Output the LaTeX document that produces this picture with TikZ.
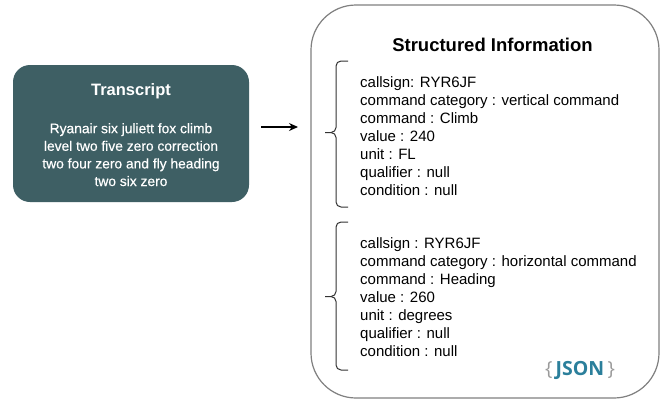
\documentclass[tikz,border=0pt]{standalone}
\usepackage{fontspec}
\setmainfont{Liberation Sans}
\newfontfamily\logofont{Open Sans}
\newfontfamily\trfont[FakeBold=0.4]{Liberation Sans}
\usetikzlibrary{arrows.meta}
\definecolor{trfill}{HTML}{3E5F64}
\definecolor{boxline}{HTML}{808080}
\definecolor{bracecol}{HTML}{333333}
\definecolor{jsonblue}{HTML}{2B7F9B}
\definecolor{jsongray}{HTML}{9A9A9A}
\begin{document}
\begin{tikzpicture}[x=1pt,y=-1pt,
  bodytext/.style={anchor=north west,inner sep=0pt,align=left,
    font=\fontsize{15}{18}\selectfont,text=black},
  bracepath/.style={draw=bracecol,line width=1pt},
]
\useasboundingbox (0,0) rectangle (667,405);
\fill[white] (0,0) rectangle (667,405);

% Transcript box
\node[fill=trfill,rounded corners=17pt,minimum width=236pt,minimum height=137pt,inner sep=0pt] (tr) at (131,133.5) {};
\node[anchor=base,inner sep=0pt,text=white,font=\fontsize{16.5}{20}\selectfont\bfseries] (trtitle) at (131,95.3) {Transcript};
\node[anchor=north,inner sep=0pt,align=center,text=white,font=\trfont\fontsize{13.8}{17.6}\selectfont] (trbody) at (131,123)
  {Ryanair six juliett fox climb\\level two five zero correction\\two four zero and fly heading\\two six zero};

% Structured information box
\node[draw=boxline,line width=1.2pt,rounded corners=45pt,minimum width=348pt,minimum height=393pt,inner sep=0pt] (si) at (485,201.5) {};
\node[anchor=base,inner sep=0pt,font=\fontsize{18.5}{22}\selectfont\bfseries] (sititle) at (492.5,51) {Structured Information};

% Arrow
\coordinate (a1) at (261,127);
\coordinate (a2) at (298,127);
\draw[line width=1.3pt,-{Stealth[length=9pt,width=8pt]}] (a1) -- (a2);

% Brace 1
\draw[bracepath] (348,61) -- (341,61) to[out=180,in=90] (336,66) -- (336,127.5)
  to[out=270,in=0] (331,132.5) -- (325,132.5);
\draw[bracepath] (331,132.5) to[out=0,in=90] (336,137.5) -- (336,202)
  to[out=270,in=180] (341,207) -- (348,207);

% Brace 2
\draw[bracepath] (348,222) -- (341,222) to[out=180,in=90] (336,227) -- (336,291.5)
  to[out=270,in=0] (331,296.5) -- (325,296.5);
\draw[bracepath] (331,296.5) to[out=0,in=90] (336,301.5) -- (336,365)
  to[out=270,in=180] (341,370) -- (348,370);

% Text blocks
\node[bodytext] (blk1) at (360,76) {callsign: RYR6JF\\command category : vertical command\\command : Climb\\value : 240\\unit : FL\\qualifier : null\\condition : null};
\node[bodytext] (blk2) at (360,237) {callsign : RYR6JF\\command category : horizontal command\\command : Heading\\value : 260\\unit : degrees\\qualifier : null\\condition : null};

% JSON logo
\node[anchor=base,inner sep=0pt,font=\logofont\fontsize{19.5}{22}\selectfont] (json) at (580,375.5)
  {\textcolor{jsongray}{\fontseries{l}\selectfont\{}\,\textcolor{jsonblue}{\bfseries JSON}\,\textcolor{jsongray}{\}}};
\end{tikzpicture}
\end{document}
